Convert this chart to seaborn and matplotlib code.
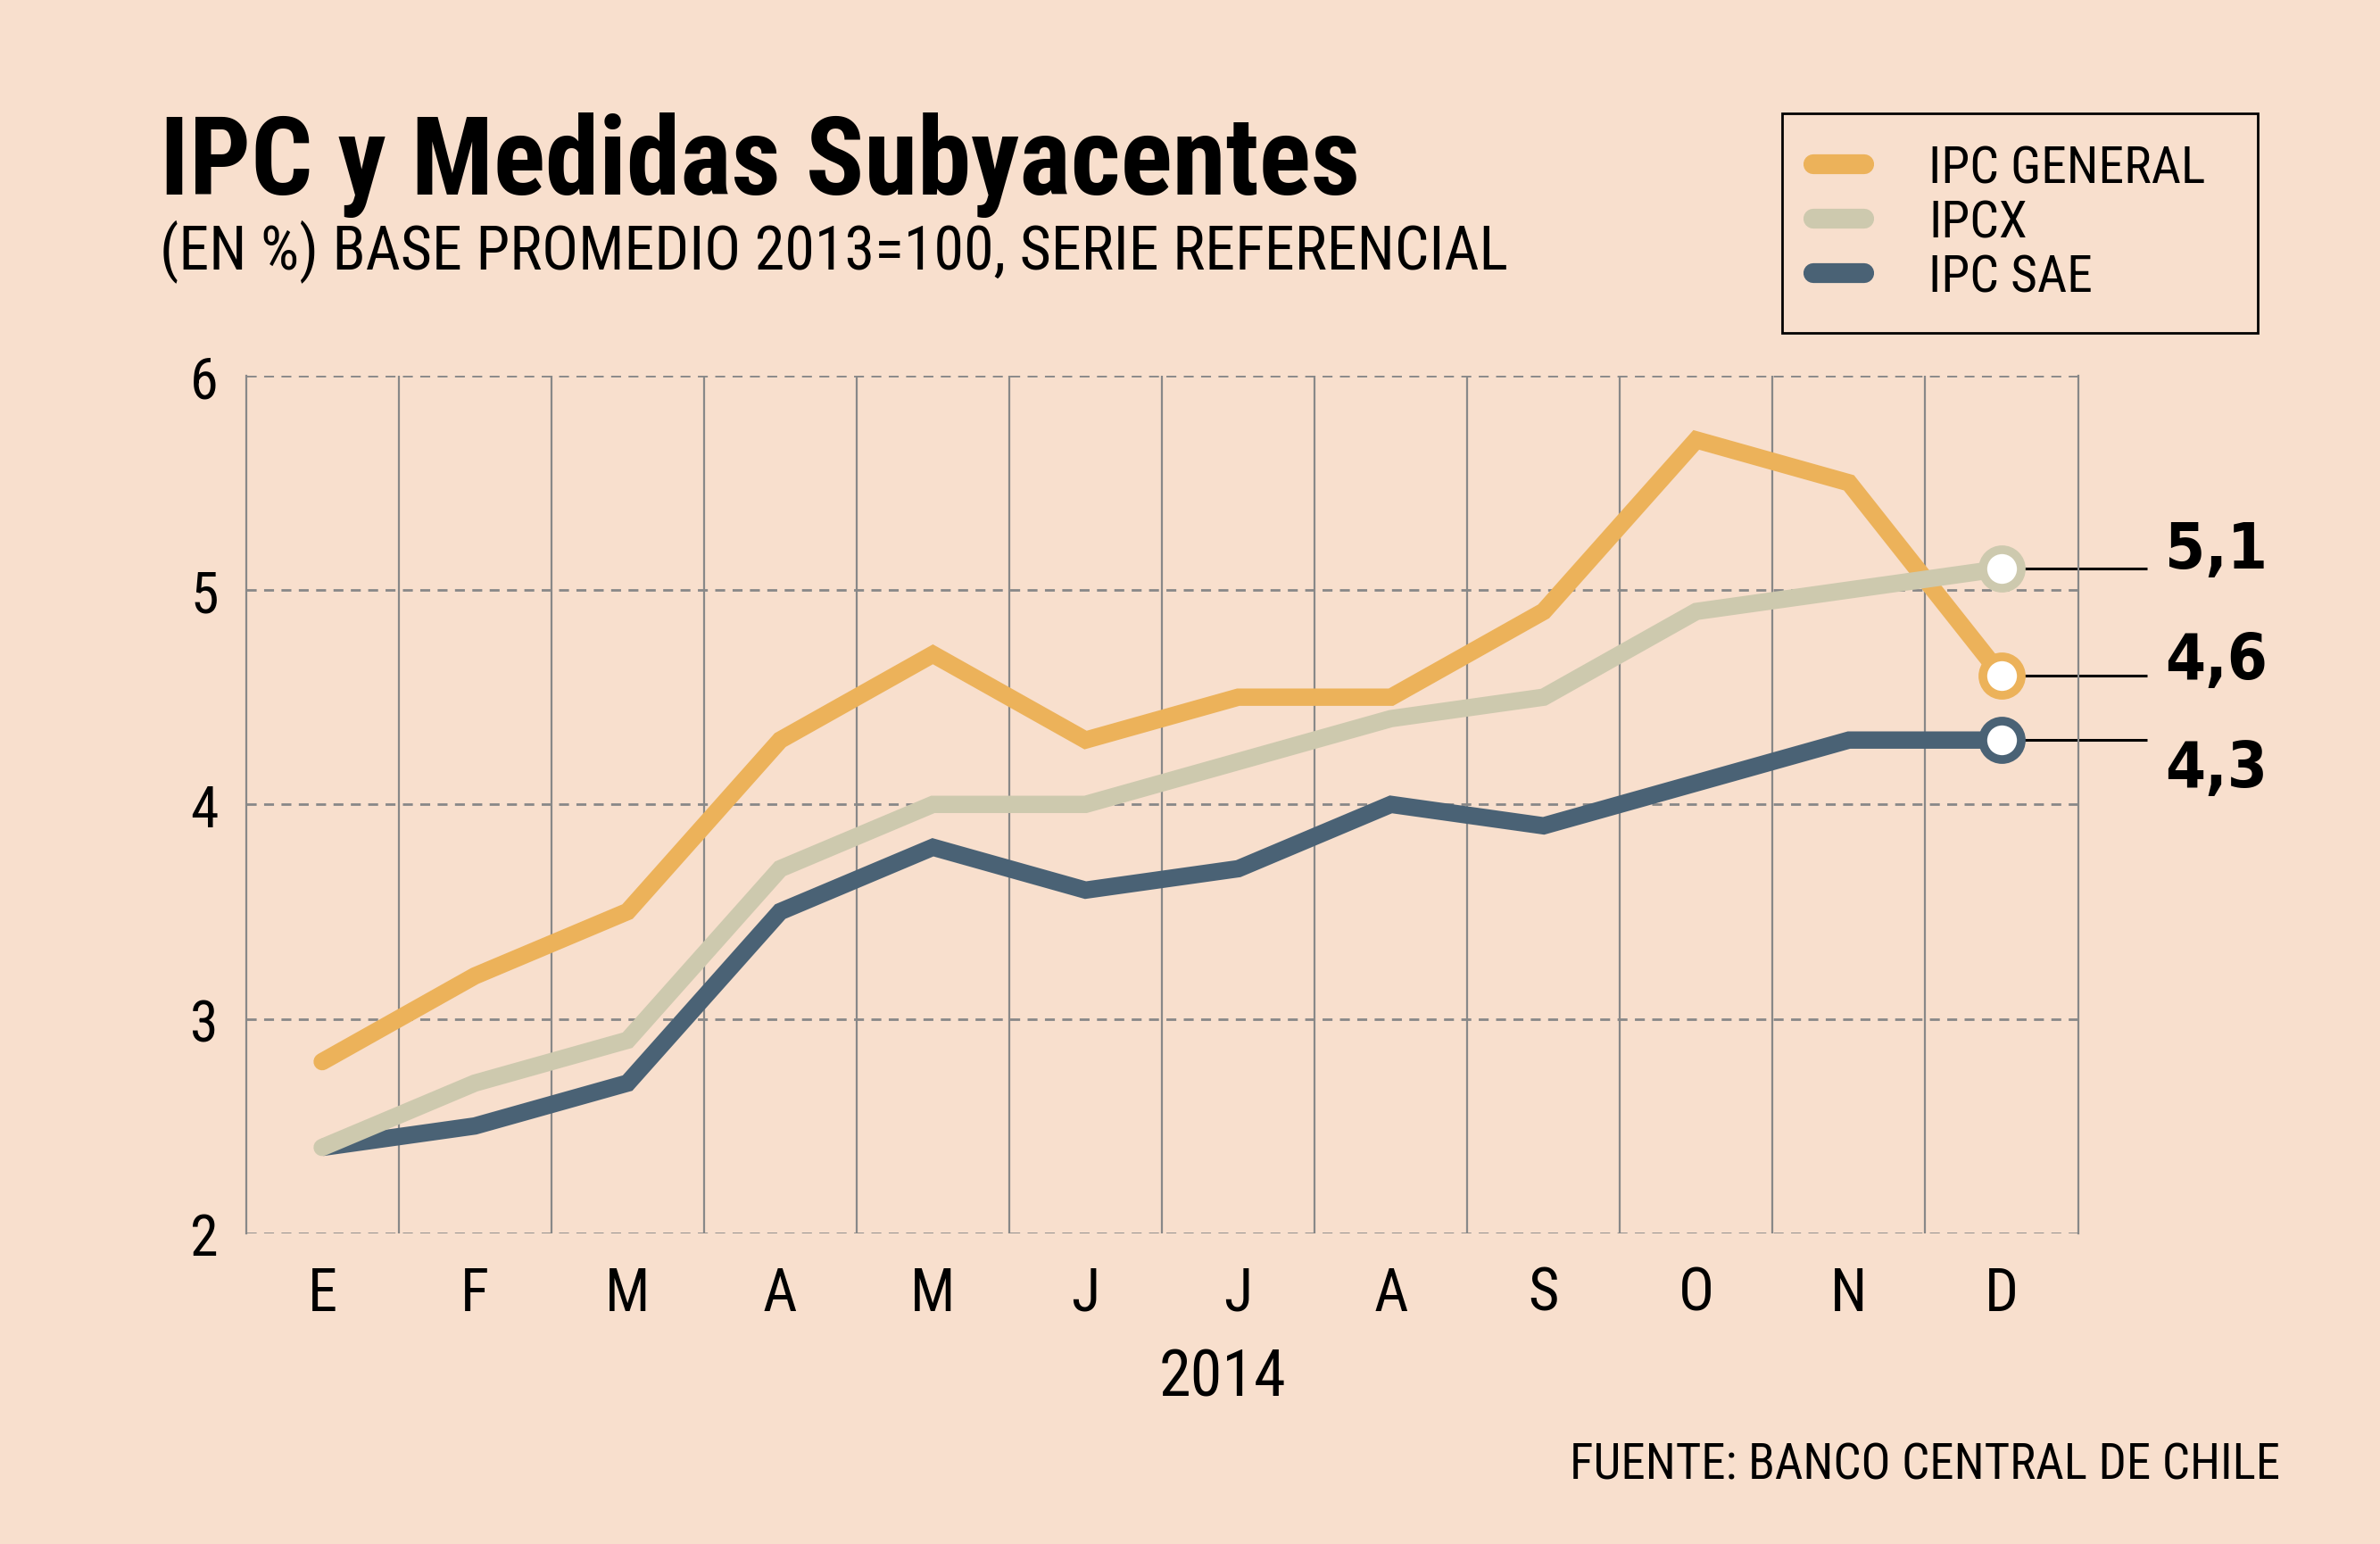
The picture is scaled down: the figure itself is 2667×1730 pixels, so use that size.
import numpy as np
import pandas as pd
import matplotlib
matplotlib.use("Agg")
import matplotlib.pyplot as plt
import seaborn as sns
from matplotlib import font_manager as fm
from matplotlib.lines import Line2D

# ---------------- data ----------------
months = ["E", "F", "M", "A", "M", "J", "J", "A", "S", "O", "N", "D"]
ipc_general = [2.8, 3.2, 3.5, 4.3, 4.7, 4.3, 4.5, 4.5, 4.9, 5.7, 5.5, 4.6]
ipcx = [2.4, 2.7, 2.9, 3.7, 4.0, 4.0, 4.2, 4.4, 4.5, 4.9, 5.0, 5.1]
ipc_sae = [2.4, 2.5, 2.7, 3.5, 3.8, 3.6, 3.7, 4.0, 3.9, 4.1, 4.3, 4.3]
series_names = ["IPC GENERAL", "IPCX", "IPC SAE"]
end_labels = ["4,6", "5,1", "4,3"]
y_ticks = [2, 3, 4, 5, 6]
year_label = "2014"
title = "IPC y Medidas Subyacentes"
subtitle = "(EN %) BASE PROMEDIO 2013=100, SERIE REFERENCIAL"
source = "FUENTE: BANCO CENTRAL DE CHILE"

colors = {"IPC GENERAL": "#ECB25A", "IPCX": "#CDC9AE", "IPC SAE": "#4A6275"}
bg = "#F8DFCD"

# ---------------- fonts ----------------
names = {f.name for f in fm.fontManager.ttflist}
cond = None
for cand in ["DejaVu Sans Condensed", "Liberation Sans Narrow", "Roboto Condensed", "Open Sans Condensed"]:
    if cand in names:
        cond = cand
        break
if cond is None:
    cond = "DejaVu Sans"
base_font = [cond, "DejaVu Sans"]

df = pd.DataFrame({
    "idx": list(range(len(months))) * 3,
    "valor": ipc_general + ipcx + ipc_sae,
    "serie": [series_names[0]] * 12 + [series_names[1]] * 12 + [series_names[2]] * 12,
})

sns.set_theme(style="white")
plt.rcParams["font.family"] = base_font
plt.rcParams["font.stretch"] = "condensed"
for k in ["text.color", "xtick.color", "ytick.color", "axes.labelcolor"]:
    plt.rcParams[k] = "black"

fig = plt.figure(figsize=(26.67, 17.31), dpi=100, facecolor=bg)
ax = fig.add_axes([0.1033, 0.2012, 0.7698, 0.5551])
ax.set_facecolor(bg)

draw_order = ["IPC SAE", "IPC GENERAL", "IPCX"]
sns.lineplot(data=df, x="idx", y="valor", hue="serie", hue_order=draw_order,
             palette=colors, linewidth=14, legend=False, ax=ax, zorder=3)
caps = {"IPC SAE": "butt", "IPC GENERAL": "round", "IPCX": "round"}
for line, name in zip(ax.lines, draw_order):
    line.set_solid_capstyle(caps[name])
    line.set_solid_joinstyle("miter")

ax.set_xlim(-0.5, 11.5)
ax.set_ylim(2, 6)
ax.set_yticks(y_ticks)
ax.set_yticklabels([str(t) for t in y_ticks], fontsize=46)
ax.set_xticks(range(12))
ax.set_xticklabels(months, fontsize=48)
ax.set_xticks(np.arange(0.5, 11.5, 1.0), minor=True)
ax.tick_params(axis="both", length=0)
ax.tick_params(axis="y", pad=22)
ax.tick_params(axis="x", pad=26)
ax.grid(False)
ax.grid(axis="y", which="major", color="#888888", linestyle=(0, (4, 3)), linewidth=2, zorder=1)
ax.grid(axis="x", which="minor", color="#888888", linestyle="-", linewidth=1.6, zorder=1)
for s in ["top", "bottom"]:
    ax.spines[s].set_visible(False)
for s in ["left", "right"]:
    ax.spines[s].set_color("#888888")
    ax.spines[s].set_linewidth(1.6)
ax.set_xlabel(year_label, fontsize=52)
ax.xaxis.set_label_coords(0.533, -0.133)
ax.set_ylabel("")

# end markers, leader lines and labels
end_vals = [ipc_general[-1], ipcx[-1], ipc_sae[-1]]
label_offsets = [0.07, 0.085, -0.135]
last = len(months) - 1
for name, v, lab, off in zip(series_names, end_vals, end_labels, label_offsets):
    ax.plot([last, 11.95], [v, v], color="black", linewidth=2.2, zorder=2, clip_on=False,
            solid_capstyle="butt")
    ax.plot([last], [v], marker="o", markersize=31, markerfacecolor="white",
            markeredgecolor=colors[name], markeredgewidth=7, zorder=5, clip_on=False)
    ax.text(12.07, v + off, lab, fontsize=52, fontweight="bold", va="center", ha="left",
            family=["DejaVu Sans"], clip_on=False)

# titles
fig.text(179 / 2667, 1 - 218 / 1731, title, fontsize=87.5, fontweight="bold", ha="left",
         va="baseline", family=base_font)
fig.text(179 / 2667, 1 - 301 / 1731, subtitle, fontsize=49, ha="left", va="baseline",
         family=base_font)
fig.text(2555 / 2667, 1 - 1658 / 1731, source, fontsize=39.5, ha="right", va="baseline",
         family=base_font)

# legend
handles = [Line2D([0], [0], color=colors[n], linewidth=16, solid_capstyle="round") for n in series_names]
leg = fig.legend(handles, series_names, loc="upper left",
                 bbox_to_anchor=(1997 / 2667, 1 - 371 / 1731, 533 / 2667, 243 / 1731),
                 bbox_transform=fig.transFigure, mode="expand",
                 fontsize=41.5, frameon=True, fancybox=False, edgecolor="black",
                 facecolor=bg, framealpha=1, handlelength=1.0, handletextpad=1.25,
                 labelspacing=0.1, borderpad=0.6, borderaxespad=0)
leg.get_frame().set_linewidth(2)
for t in leg.get_texts():
    t.set_family(base_font)

fig.savefig("out.png", dpi=100, facecolor=bg)
